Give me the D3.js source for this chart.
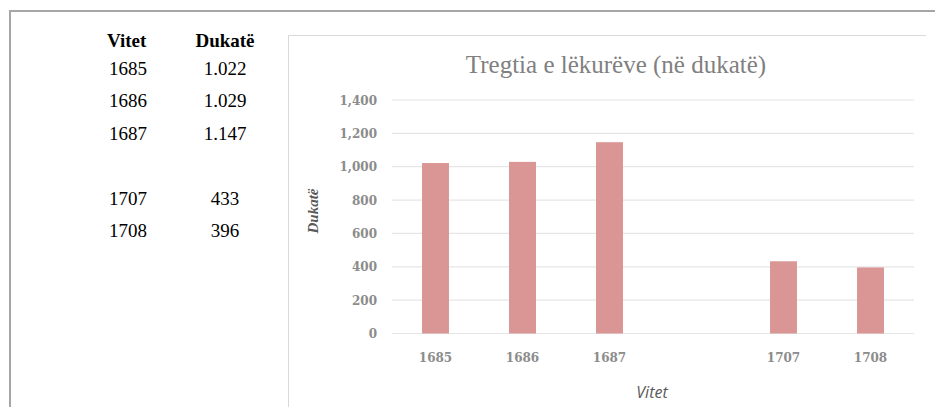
<!DOCTYPE html>
<html>
<head>
<meta charset="utf-8">
<script src="https://cdn.jsdelivr.net/npm/d3@7"></script>
<style>
  body { margin: 0; background: #fff; }
  svg { display: block; }
</style>
</head>
<body>
<div id="chart"></div>
<script>
// data
const years = ["1685", "1686", "1687", "", "1707", "1708"];
const ducats = [1022, 1029, 1147, null, 433, 396];
const tableYears = ["1685", "1686", "1687", "1707", "1708"];
const tableValues = ["1.022", "1.029", "1.147", "433", "396"];
const yTicks = [0, 200, 400, 600, 800, 1000, 1200, 1400];

const width = 935, height = 407;
const serif = "'Liberation Serif', 'Times New Roman', Tinos, serif";

const svg = d3.select("#chart").append("svg")
  .attr("width", width)
  .attr("height", height);

// outer frame
svg.append("path")
  .attr("d", "M10," + height + "V11H" + width)
  .attr("fill", "none")
  .attr("stroke", "#a6a6a6")
  .attr("stroke-width", 2);

// table on the left
const table = svg.append("g")
  .style("font-family", serif)
  .attr("font-size", 19)
  .attr("fill", "#000");

table.append("text").attr("x", 107).attr("y", 47)
  .attr("font-weight", "bold").text("Vitet");
table.append("text").attr("x", 225).attr("y", 47)
  .attr("text-anchor", "middle")
  .attr("font-weight", "bold").text("Dukatë");

const rowY = [75, 107, 140, 205, 237];
tableYears.forEach((y, i) => {
  table.append("text").attr("x", 109).attr("y", rowY[i]).text(y);
  table.append("text").attr("x", 225).attr("y", rowY[i])
    .attr("text-anchor", "middle").text(tableValues[i]);
});

// chart box
svg.append("path")
  .attr("d", "M288.5," + height + "V35.5H926")
  .attr("fill", "none")
  .attr("stroke", "#d9d9d9")
  .attr("stroke-width", 1);

const margin = { left: 392, right: 935 - 914, top: 100, bottom: 407 - 333.5 };

const x = d3.scaleBand()
  .domain(years)
  .range([margin.left, width - margin.right])
  .paddingInner(0.69)
  .paddingOuter(0.345);

const y = d3.scaleLinear()
  .domain([0, 1400])
  .range([height - margin.bottom, margin.top]);

// gridlines
svg.append("g")
  .selectAll("line")
  .data(yTicks)
  .join("line")
  .attr("x1", margin.left)
  .attr("x2", width - margin.right)
  .attr("y1", d => y(d))
  .attr("y2", d => y(d))
  .attr("stroke", "#e6e6e6")
  .attr("stroke-width", 1.2);

// y axis labels
const yAxis = svg.append("g")
  .attr("transform", "translate(" + (margin.left - 15) + ",0)")
  .call(d3.axisLeft(y).tickValues(yTicks).tickFormat(d3.format(",")).tickSize(0).tickPadding(0));
yAxis.select(".domain").remove();
yAxis.selectAll("text")
  .attr("font-family", "DejaVu Serif")
  .attr("font-size", 12)
  .attr("font-weight", "bold")
  .attr("fill", "#8c8c8c")
  .attr("dy", "0.35em");

// bars
svg.append("g")
  .selectAll("rect")
  .data(years.map((yr, i) => ({ yr, v: ducats[i] })).filter(d => d.v !== null))
  .join("rect")
  .attr("x", d => x(d.yr))
  .attr("width", x.bandwidth())
  .attr("y", d => y(d.v))
  .attr("height", d => y(0) - y(d.v))
  .attr("fill", "#d99694");

// x axis labels
const xAxis = svg.append("g")
  .attr("transform", "translate(0," + (y(0) + 20) + ")")
  .call(d3.axisBottom(x).tickSize(0).tickPadding(0));
xAxis.select(".domain").remove();
xAxis.selectAll("text")
  .attr("font-family", "DejaVu Serif")
  .attr("font-size", 12)
  .attr("font-weight", "bold")
  .attr("fill", "#8c8c8c");

// title
svg.append("text")
  .attr("x", 616)
  .attr("y", 73)
  .attr("text-anchor", "middle")
  .style("font-family", serif)
  .attr("font-size", 25)
  .attr("fill", "#808080")
  .text("Tregtia e lëkurëve (në dukatë)");

// axis titles
svg.append("text")
  .attr("transform", "translate(318,211) rotate(-90)")
  .attr("text-anchor", "middle")
  .style("font-family", serif)
  .attr("font-size", 15)
  .attr("font-weight", "bold")
  .attr("font-style", "italic")
  .attr("fill", "#595959")
  .text("Dukatë");

svg.append("text")
  .attr("x", 652)
  .attr("y", 398)
  .attr("text-anchor", "middle")
  .attr("font-family", "Open Sans")
  .attr("font-size", 16)
  .attr("font-style", "italic")
  .attr("fill", "#595959")
  .text("Vitet");
</script>
</body>
</html>
